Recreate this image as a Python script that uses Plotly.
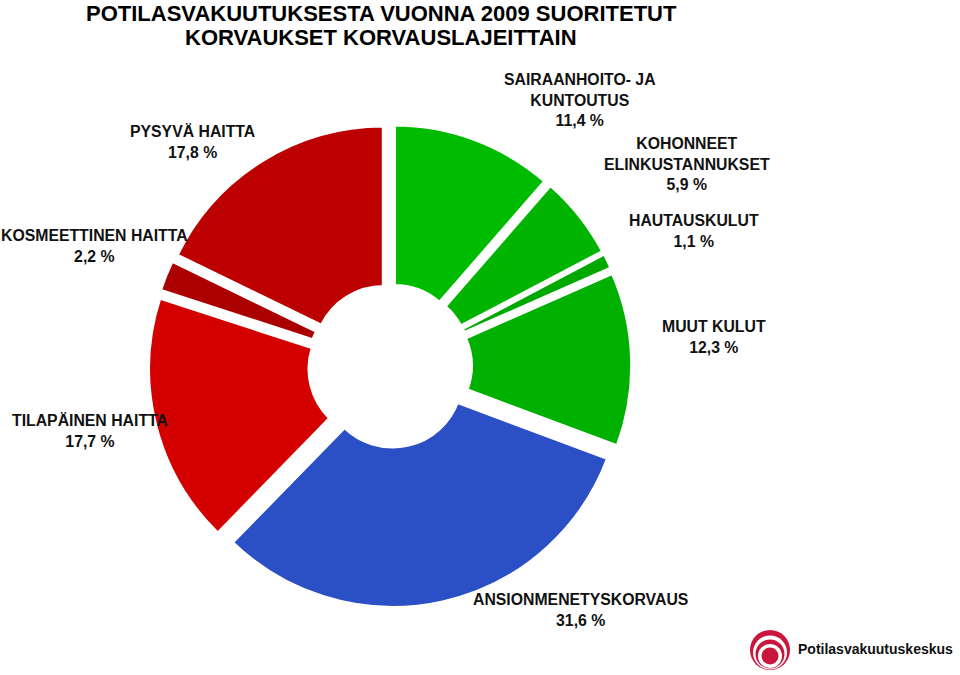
import plotly.graph_objects as go

categories = ["SAIRAANHOITO- JA<br>KUNTOUTUS", "KOHONNEET<br>ELINKUSTANNUKSET", "HAUTAUSKULUT",
              "MUUT KULUT", "ANSIONMENETYSKORVAUS", "TILAPÄINEN HAITTA",
              "KOSMEETTINEN HAITTA", "PYSYVÄ HAITTA"]
values = [11.4, 5.9, 1.1, 12.3, 31.6, 17.7, 2.2, 17.8]
colors = ["#00BC00", "#00B400", "#00A800", "#00B000", "#2B4FC4", "#D40000", "#AA0000", "#BC0000"]
title_lines = ["POTILASVAKUUTUKSESTA VUONNA 2009 SUORITETUT", "KORVAUKSET KORVAUSLAJEITTAIN"]

# label anchor points (pixels in 960x675 canvas, centre of text block)
label_pos = [(580, 100), (687, 164), (694, 231), (714, 337), (580, 610), (90, 431), (94, 246), (192, 142)]

W, H = 960, 675
fig = go.Figure()
fig.add_trace(go.Pie(
    values=values, labels=categories, sort=False, direction="clockwise", rotation=0,
    hole=0.30, textinfo="none", hoverinfo="skip",
    pull=[0.053] * len(values),
    marker=dict(colors=colors, line=dict(color="white", width=3.5)),
    domain=dict(x=[0.1542, 0.6583], y=[0.0993, 0.8163]),
    showlegend=False,
))

annotations = []
for cat, v, (px, py) in zip(categories, values, label_pos):
    txt = f"{cat}<br>{str(v).replace('.', ',')} %"
    annotations.append(dict(
        text=txt, x=px / W, y=1 - py / H, xref="paper", yref="paper",
        xanchor="center", yanchor="middle", showarrow=False, align="center",
        font=dict(family="Liberation Sans, Arial", size=15.8, color="#111111", weight="bold"),
    ))

for line, cy in zip(title_lines, [13, 37]):
    annotations.append(dict(
        text=line, x=381 / W, y=1 - cy / H, xref="paper", yref="paper",
        xanchor="center", yanchor="middle", showarrow=False, align="center",
        font=dict(family="Liberation Sans, Arial", size=22, color="#000000", weight="bold"),
    ))
annotations.append(dict(
    text="Potilasvakuutuskeskus", x=796 / W, y=1 - 649 / H, xref="paper", yref="paper",
    xanchor="left", yanchor="middle", showarrow=False,
    font=dict(family="Liberation Sans, Arial", size=14, color="#111111", weight="bold"),
))

# logo circles (pixel -> paper)
def circ(cx, cy, r, col):
    return dict(type="circle", xref="paper", yref="paper",
                x0=(cx - r) / W, x1=(cx + r) / W, y0=1 - (cy + r) / H, y1=1 - (cy - r) / H,
                fillcolor=col, line=dict(width=0), layer="above")

logo_red = "#C8163C"
shapes = [
    circ(770, 650, 20, logo_red),
    circ(770, 652.5, 17, "white"),
    circ(770, 654, 14.5, logo_red),
    circ(770, 656, 12, "white"),
    circ(770, 656, 8.5, logo_red),
]

fig.update_layout(
    width=W, height=H, margin=dict(l=0, r=0, t=0, b=0),
    paper_bgcolor="white", plot_bgcolor="white",
    annotations=annotations, shapes=shapes,
)
fig.write_html("out.html")
